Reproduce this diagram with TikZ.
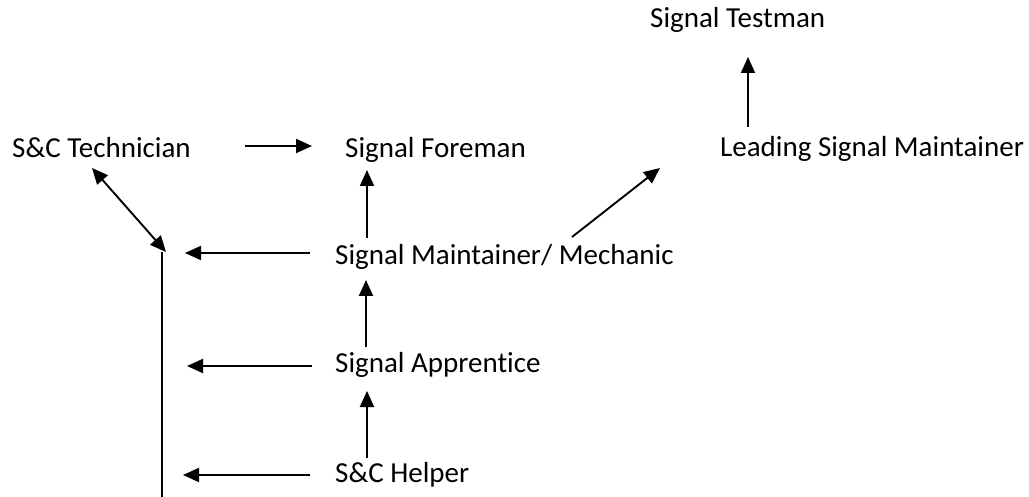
\documentclass[tikz,border=0pt]{standalone}
\usepackage{fontspec}
\setmainfont[RawFeature={-liga;-clig;-dlig}]{Carlito}
\usetikzlibrary{arrows.meta}
\tikzset{
  lbl/.style={anchor=base west, inner sep=0pt, font=\fontsize{29}{34}\selectfont},
  tip/.tip={Triangle[length=16pt,width=14pt]},
  arr/.style={line width=1.9pt, -tip},
  dbl/.style={line width=1.9pt, tip-tip},
  plain/.style={line width=1.9pt}
}
\begin{document}
\begin{tikzpicture}[x=1pt,y=-1pt]
\useasboundingbox (0,0) rectangle (1029,497);

% job titles
\node[lbl] (testman) at (650,28)  {Signal Testman};
\node[lbl] (tech)    at (12,158)  {S\&C Technician};
\node[lbl] (fore)    at (345,158) {Signal Foreman};
\node[lbl] (lead)    at (720,157) {Leading Signal Maintainer};
\node[lbl] (mech)    at (335,265) {Signal Maintainer/ Mechanic};
\node[lbl] (appr)    at (335,372) {Signal Apprentice};
\node[lbl] (help)    at (335,482) {S\&C Helper};

% connector end points
\coordinate (techR)  at (245,146);
\coordinate (foreL)  at (312,146);
\coordinate (leadT)  at (748,127);
\coordinate (testB)  at (748,57);
\coordinate (mechT)  at (367,238);
\coordinate (foreB)  at (367,170);
\coordinate (mechR)  at (572,237);
\coordinate (leadL)  at (660,168);
\coordinate (apprT)  at (366,347);
\coordinate (mechB)  at (366,280);
\coordinate (helpT)  at (367,458);
\coordinate (apprB)  at (367,391);
\coordinate (mechL)  at (310,253);
\coordinate (apprL)  at (312,366);
\coordinate (helpL)  at (310,475);
\coordinate (railA)  at (185,253);
\coordinate (railB)  at (187,366);
\coordinate (railC)  at (183,475);
\coordinate (railTop) at (162,252);
\coordinate (railBot) at (162,497);
\coordinate (techB)  at (92,168);
\coordinate (railTip) at (166,252);

% promotions
\draw[arr] (techR) -- (foreL);
\draw[arr] (leadT) -- (testB);
\draw[arr] (mechT) -- (foreB);
\draw[arr] (mechR) -- (leadL);
\draw[arr] (apprT) -- (mechB);
\draw[arr] (helpT) -- (apprB);

% side route to S&C Technician
\draw[arr] (mechL) -- (railA);
\draw[arr] (apprL) -- (railB);
\draw[arr] (helpL) -- (railC);
\draw[plain] (railBot) -- (railTop);
\draw[dbl] (techB) -- (railTip);
\end{tikzpicture}
\end{document}
